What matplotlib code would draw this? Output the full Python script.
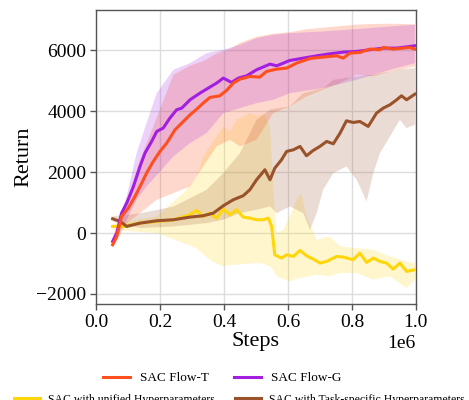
import numpy as np
import matplotlib
matplotlib.use("Agg")
import matplotlib.pyplot as plt

plt.rcParams['font.family'] = ['Liberation Serif', 'DejaVu Serif']
plt.rcParams['mathtext.fontset'] = 'custom'
plt.rcParams['mathtext.rm'] = 'Liberation Serif'

# ---------------- data (steps in units of 1e6) ----------------
flow_g_steps = [0.052, 0.065, 0.08, 0.096, 0.117, 0.1375, 0.153, 0.174, 0.19, 0.21, 0.231, 0.252,
                0.268, 0.294, 0.325, 0.356, 0.377, 0.398, 0.424, 0.445, 0.471, 0.502, 0.544, 0.565,
                0.606, 0.648, 0.69, 0.731, 0.773, 0.815, 0.856, 0.898, 0.94, 0.981, 0.997]
flow_g_mean = [-274, 0, 657, 985, 1533, 2190, 2628, 3011, 3340, 3450, 3778, 4052,
               4106, 4380, 4599, 4796, 4928, 5092, 4950, 5092, 5168, 5366, 5552, 5497,
               5672, 5749, 5825, 5891, 5946, 5968, 6023, 6077, 6077, 6132, 6154]

flow_t_steps = [0.052, 0.065, 0.08, 0.101, 0.122, 0.143, 0.158, 0.179, 0.2, 0.221, 0.247, 0.273,
                0.294, 0.315, 0.335, 0.356, 0.387, 0.408, 0.429, 0.45, 0.481, 0.512, 0.533, 0.565,
                0.596, 0.627, 0.669, 0.71, 0.752, 0.773, 0.794, 0.825, 0.856, 0.888, 0.898, 0.929,
                0.96, 0.981, 0.997]
flow_t_mean = [-383, -110, 548, 821, 1205, 1643, 1971, 2354, 2683, 2957, 3395, 3668,
               3887, 4073, 4270, 4456, 4511, 4686, 4928, 5059, 5146, 5125, 5311, 5387,
               5420, 5584, 5738, 5782, 5825, 5749, 5913, 5935, 6045, 6023, 6099, 6045,
               6077, 6099, 6045]

task_steps = [0.052, 0.075, 0.096, 0.138, 0.19, 0.242, 0.294, 0.335, 0.367, 0.398, 0.429, 0.46,
              0.481, 0.502, 0.528, 0.544, 0.559, 0.58, 0.596, 0.617, 0.638, 0.658, 0.679, 0.7,
              0.721, 0.742, 0.763, 0.783, 0.804, 0.825, 0.851, 0.877, 0.898, 0.919, 0.94, 0.955,
              0.971, 0.997]
task_mean = [471, 383, 219, 328, 405, 438, 525, 569, 657, 898, 1095, 1226,
             1423, 1752, 2080, 1752, 2135, 2409, 2683, 2737, 2847, 2540, 2716, 2847,
             3011, 2935, 3285, 3690, 3635, 3668, 3504, 3942, 4106, 4216, 4380, 4511,
             4380, 4566]

unified_steps = [0.052, 0.085, 0.138, 0.19, 0.242, 0.294, 0.315, 0.335, 0.356, 0.377, 0.398, 0.419,
                 0.44, 0.46, 0.481, 0.502, 0.523, 0.539, 0.549, 0.559, 0.58, 0.596, 0.617, 0.638,
                 0.658, 0.679, 0.7, 0.721, 0.752, 0.773, 0.804, 0.825, 0.846, 0.867, 0.888, 0.908,
                 0.929, 0.95, 0.971, 0.997]
unified_mean = [219, 219, 328, 383, 438, 602, 745, 548, 657, 493, 788, 602,
                766, 525, 493, 438, 438, 493, 219, -712, -821, -712, -767, -569,
                -745, -854, -985, -931, -767, -788, -876, -657, -964, -821, -931, -985,
                -1183, -985, -1259, -1205]

# std bands
flow_g_band_steps = [0.052, 0.096, 0.127, 0.158, 0.19, 0.242, 0.294, 0.346, 0.398, 0.45, 0.502,
                     0.554, 0.606, 0.71, 0.815, 0.919, 0.997]
flow_g_upper = [-150, 1205, 2628, 3613, 4599, 5366, 5584, 5913, 6023, 6187, 6406,
                6515, 6570, 6625, 6702, 6789, 6844]
flow_g_lower = [-400, 438, 1095, 1533, 1900, 2518, 2957, 3285, 3942, 4106, 4270,
                4380, 4599, 4763, 5037, 5366, 5584]

flow_t_band_steps = [0.052, 0.096, 0.138, 0.19, 0.242, 0.294, 0.335, 0.377, 0.419, 0.45, 0.502,
                     0.554, 0.606, 0.658, 0.71, 0.763, 0.815, 0.867, 0.919, 0.997]
flow_t_upper = [-250, 1000, 2400, 3800, 5200, 5500, 5650, 5900, 6050, 6250, 6450,
                6550, 6600, 6700, 6750, 6800, 6850, 6870, 6880, 6860]
flow_t_lower = [-500, 330, 657, 1095, 1314, 1533, 2190, 2847, 3066, 2847, 3066,
                3942, 4160, 4490, 4709, 4928, 5201, 5146, 5311, 5475]

task_band_steps = [0.052, 0.138, 0.242, 0.346, 0.398, 0.45, 0.502, 0.544, 0.565, 0.606, 0.648,
                   0.669, 0.69, 0.71, 0.742, 0.783, 0.815, 0.846, 0.867, 0.888, 0.919, 0.95,
                   0.971, 0.997]
task_upper = [550, 650, 870, 1423, 1971, 2628, 3723, 4052, 4100, 4160, 4599,
              4650, 4709, 4750, 5037, 5100, 5146, 5180, 5201, 5250, 5311, 5380,
              5400, 5420]
task_lower = [380, 164, 219, 328, 438, 657, 766, 876, 657, 876, 657,
              110, 660, 1423, 1971, 2190, 1752, 1040, 1971, 2628, 3176, 3723,
              3449, 3559]

unified_band_steps = [0.052, 0.19, 0.273, 0.315, 0.335, 0.356, 0.377, 0.398, 0.419, 0.44, 0.481,
                      0.502, 0.523, 0.544, 0.554, 0.565, 0.585, 0.606, 0.627, 0.642, 0.658,
                      0.69, 0.731, 0.763, 0.815, 0.867, 0.919, 0.971, 0.997]
unified_upper = [300, 548, 1314, 1862, 2518, 2847, 3176, 3504, 3340, 3723, 3942,
                 3850, 3942, 3500, 1500, 0, 110, 548, 1095, 1314, 548,
                 -219, -110, -438, -493, -548, -767, -931, -985]
unified_lower = [100, 0, -329, -493, -700, -876, -1000, -1095, -1050, -1040, -1000,
                 -985, -1000, -1095, -1200, -1424, -1500, -1588, -1500, -1480, -1430,
                 -1370, -1424, -1314, -1314, -1530, -1420, -1807, -1530]

labels = ['SAC Flow-T', 'SAC Flow-G',
          'SAC with unified Hyperparameters', 'SAC with Task-specific Hyperparameters']
colors = ['#ff4f1f', '#a21ee0', '#ffd60a', '#99522a']

# ---------------- figure ----------------
fig = plt.figure(figsize=(4.69, 4.0), dpi=100)
ax = fig.add_axes([0.2047, 0.24, 0.682, 0.735])

def band(steps, lo, hi, color, alpha):
    s = np.asarray(steps) * 1e6
    ax.fill(np.r_[s, s[::-1]], np.r_[hi, np.asarray(lo)[::-1]],
            color=color, alpha=alpha, lw=0, zorder=1)

band(unified_band_steps, unified_lower, unified_upper, colors[2], 0.2)
band(task_band_steps, task_lower, task_upper, colors[3], 0.2)
band(flow_t_band_steps, flow_t_lower, flow_t_upper, colors[0], 0.22)
band(flow_g_band_steps, flow_g_lower, flow_g_upper, colors[1], 0.2)

lw = 2.2
h_uni, = ax.plot(np.asarray(unified_steps) * 1e6, unified_mean, color=colors[2], lw=lw, zorder=3)
h_task, = ax.plot(np.asarray(task_steps) * 1e6, task_mean, color=colors[3], lw=lw, zorder=3)
h_g, = ax.plot(np.asarray(flow_g_steps) * 1e6, flow_g_mean, color=colors[1], lw=lw, zorder=4)
h_t, = ax.plot(np.asarray(flow_t_steps) * 1e6, flow_t_mean, color=colors[0], lw=lw, zorder=5)

ax.set_xlim(0, 1e6)
ax.set_ylim(-2330, 7330)
ax.set_xticks([0, 0.2e6, 0.4e6, 0.6e6, 0.8e6, 1.0e6])
ax.set_yticks([-2000, 0, 2000, 4000, 6000])
ax.ticklabel_format(axis='x', style='sci', scilimits=(0, 0), useMathText=False)
ax.xaxis.get_offset_text().set_fontsize(14)
ax.grid(True, color='#dddddd', lw=1.0, zorder=0)
ax.set_axisbelow(True)
for sp in ax.spines.values():
    sp.set_color('#555555')
    sp.set_linewidth(1.0)
ax.tick_params(axis='both', labelsize=14, color='#555555', length=4, width=1, pad=3)
ax.set_xlabel('Steps', fontsize=16, labelpad=1)
ax.set_ylabel('Return', fontsize=16, labelpad=2)

fig.legend([h_t, h_g], labels[:2], loc='center left', bbox_to_anchor=(0.195, 0.055),
           ncol=2, frameon=False, fontsize=9.5, handlelength=2.05, columnspacing=1.9,
           handletextpad=0.75)
fig.legend([h_uni, h_task], labels[2:], loc='center left', bbox_to_anchor=(0.007, 0.001),
           ncol=2, frameon=False, fontsize=8.5, handlelength=2.2, columnspacing=1.7,
           handletextpad=0.7)

fig.savefig('out.png', dpi=100)
